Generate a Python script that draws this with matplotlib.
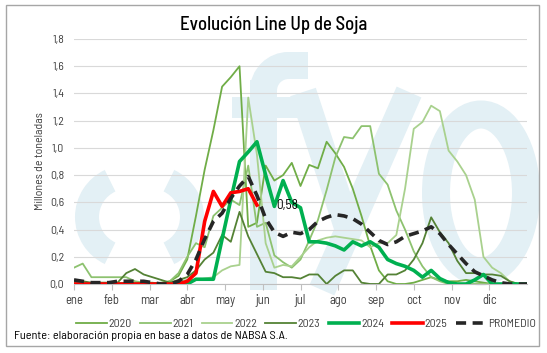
import numpy as np
import matplotlib
import matplotlib.pyplot as plt
from matplotlib.patches import Arc, Ellipse, Rectangle
from matplotlib.lines import Line2D
from matplotlib.transforms import Affine2D

matplotlib.use('Agg')
plt.rcParams['font.family'] = ['Barlow Semi Condensed', 'DejaVu Sans']

# Weekly line-up (millones de toneladas), 53 weeks
y2020 = [0.00, 0.00, 0.00, 0.00, 0.00, 0.00, 0.00, 0.00, 0.00, 0.00, 0.01, 0.02, 0.06, 0.18,
         0.50, 0.84, 1.13, 1.45, 1.52, 1.60, 0.42, 0.45, 0.87, 0.76, 0.80, 0.89, 0.72, 0.875,
         0.85, 1.045, 0.96, 0.86, 0.70, 0.50, 0.28, 0.10, 0.02, 0.00, 0.00, 0.01, 0.03, 0.05,
         0.03, 0.02, 0.02, 0.03, 0.02, 0.01, 0.00, 0.00, 0.00, 0.00, 0.00]
y2021 = [0.12, 0.15, 0.05, 0.05, 0.05, 0.05, 0.05, 0.02, 0.01, 0.01, 0.00, 0.02, 0.08, 0.20,
         0.30, 0.27, 0.50, 0.56, 0.62, 0.58, 0.87, 0.42, 0.45, 0.21, 0.16, 0.12, 0.18, 0.32,
         0.47, 0.69, 0.93, 1.08, 1.07, 1.16, 1.16, 0.81, 0.73, 0.54, 0.40, 0.24, 0.13, 0.05,
         0.02, 0.00, 0.00, 0.00, 0.00, 0.00, 0.00, 0.00, 0.00, 0.00, 0.00]
y2022 = [0.00, 0.00, 0.00, 0.00, 0.00, 0.00, 0.00, 0.00, 0.00, 0.00, 0.00, 0.00, 0.02, 0.03,
         0.03, 0.04, 0.05, 0.10, 0.13, 0.14, 1.37, 0.95, 0.30, 0.12, 0.14, 0.13, 0.20, 0.27,
         0.32, 0.34, 0.35, 0.34, 0.33, 0.32, 0.27, 0.30, 0.30, 0.36, 0.70, 1.14, 1.19, 1.31,
         1.27, 0.98, 0.90, 0.80, 0.62, 0.20, 0.12, 0.08, 0.02, 0.00, 0.00]
y2023 = [0.02, 0.02, 0.01, 0.01, 0.01, 0.01, 0.08, 0.11, 0.07, 0.05, 0.03, 0.01, 0.03, 0.05,
         0.10, 0.18, 0.23, 0.36, 0.31, 0.53, 0.35, 0.22, 0.09, 0.08, 0.05, 0.05, 0.04, 0.07,
         0.07, 0.00, 0.06, 0.10, 0.10, 0.01, 0.00, 0.00, 0.07, 0.07, 0.10, 0.18, 0.30, 0.49,
         0.38, 0.30, 0.17, 0.08, 0.08, 0.07, 0.07, 0.06, 0.02, 0.00, 0.00]
y2024 = [0.00, 0.00, 0.00, 0.00, 0.00, 0.00, 0.00, 0.00, 0.00, 0.00, 0.00, 0.00, 0.00, 0.00,
         0.035, 0.035, 0.035, 0.33, 0.62, 0.90, 0.97, 1.045, 0.80, 0.57, 0.76, 0.60, 0.56, 0.31,
         0.31, 0.30, 0.28, 0.25, 0.31, 0.28, 0.31, 0.27, 0.18, 0.15, 0.13, 0.10, 0.05, 0.10,
         0.04, 0.01, 0.00, 0.00, 0.03, 0.07, 0.00, 0.00, 0.00, 0.00, 0.00]
y2025 = [0.00, 0.00, 0.00, 0.00, 0.00, 0.00, 0.00, 0.00, 0.00, 0.00, 0.00, 0.00, 0.00, 0.02,
         0.08, 0.46, 0.68, 0.57, 0.67, 0.68, 0.70, 0.58]
promedio = [0.03, 0.02, 0.01, 0.01, 0.01, 0.02, 0.02, 0.02, 0.02, 0.01, 0.00, 0.00, 0.02, 0.07,
            0.18, 0.33, 0.46, 0.52, 0.63, 0.72, 0.79, 0.65, 0.48, 0.38, 0.35, 0.38, 0.37, 0.40,
            0.46, 0.49, 0.51, 0.50, 0.48, 0.44, 0.38, 0.32, 0.29, 0.31, 0.35, 0.37, 0.39, 0.42,
            0.37, 0.29, 0.22, 0.15, 0.09, 0.06, 0.03, 0.01, 0.00, 0.00, 0.00]
meses = ['ene', 'feb', 'mar', 'abr', 'may', 'jun', 'jul', 'ago', 'sep', 'oct', 'nov', 'dic']

series = [
    ('2020', y2020, '#70ad47', 1.3),
    ('2021', y2021, '#8dc26f', 1.3),
    ('2022', y2022, '#a9d18e', 1.3),
    ('2023', y2023, '#548235', 1.3),
    ('2024', y2024, '#00b050', 2.6),
    ('2025', y2025, '#ff0000', 2.6),
]

W, H = 547, 353
fig = plt.figure(figsize=(W / 100, H / 100), dpi=100)
ax = fig.add_axes([74 / W, 1 - 284 / H, 453 / W, 245 / H])
ax.set_facecolor('none')
px = Affine2D().scale(1 / W, -1 / H).translate(0, 1) + fig.transFigure

# fyo watermark behind the plot
wm = '#e3f0f5'
pt = 72 / 100
deco = [
    Arc((127, 217), 80, 80, theta1=115, theta2=245, lw=24 * pt, color=wm),
    Arc((152, 217), 80, 80, theta1=-65, theta2=65, lw=24 * pt, color=wm),
    Rectangle((250, 80), 27, 210, color=wm, lw=0),
    Arc((288.5, 90.5), 50, 50, theta1=180, theta2=270, lw=27 * pt, color=wm),
    Rectangle((288, 52), 20, 27, color=wm, lw=0),
    Rectangle((232, 97), 68, 21, color=wm, lw=0),
    Ellipse((481, 193), 90, 157, fill=False, lw=28 * pt, color=wm),
]
for p in deco:
    p.set_transform(px)
    p.set_zorder(-1)
    fig.add_artist(p)
for xs, ys in [([303, 350], [92, 235]), ([409, 322], [92, 290])]:
    ln = Line2D(xs, ys, lw=27 * pt, color=wm, solid_capstyle='butt', transform=px, zorder=-1)
    fig.add_artist(ln)

# outer frame
fig.add_artist(Rectangle((6, 5), 533, 341, fill=False, ec='#a6a6a6', lw=1.0, transform=px, zorder=5))

# series
for name, vals, col, lw in series:
    ax.plot(np.arange(len(vals)), vals, color=col, lw=lw, label=name, zorder=3)
ax.plot(np.arange(len(promedio)), promedio, color='#262626', lw=2.6, ls=(0, (2.8, 1.8)),
        label='PROMEDIO', zorder=4)

# data label of the last 2025 point
last = len(y2025) - 1
ax.annotate(f'{y2025[last]:.2f}'.replace('.', ','), (last, y2025[last]), xytext=(14, 0),
            textcoords='offset points', ha='left', va='center', fontsize=9.5, color='black')

ax.set_xlim(0, 52)
ax.set_ylim(0, 1.8)
ax.set_yticks(np.arange(0, 1.81, 0.2))
ax.set_yticklabels([f'{v:.1f}'.replace('.', ',') for v in np.arange(0, 1.81, 0.2)], fontsize=8.5)
ax.set_xticks([m * 52 / 12 for m in range(12)])
ax.set_xticklabels(meses, fontsize=9)
ax.tick_params(axis='y', length=0, pad=7, colors='#404040')
ax.tick_params(axis='x', length=4, width=0.8, color='#bfbfbf', pad=3, labelcolor='#404040')
ax.grid(axis='y', color='#d9d9d9', lw=0.8)
ax.set_axisbelow(True)
for s in ['top', 'right', 'left']:
    ax.spines[s].set_visible(False)
ax.spines['bottom'].set_color('#bfbfbf')

fig.text(0.5, 1 - 25 / H, 'Evolución Line Up de Soja', ha='center', va='center', fontsize=13.5,
         fontweight='medium')
fig.text(40 / W, 1 - 161 / H, 'Millones de toneladas', rotation=90, ha='center', va='center',
         fontsize=8.5, color='#404040')
fig.text(14 / W, 1 - 336 / H, 'Fuente: elaboración propia en base a datos de NABSA S.A.',
         ha='left', va='center', fontsize=8.8)

fig.legend(loc='center', bbox_to_anchor=(306 / W, 1 - 324 / H), ncol=7, frameon=False,
           fontsize=8.5, handlelength=2.6, handletextpad=0.15, columnspacing=0.7,
           borderpad=0.2, labelcolor='#404040')

plt.savefig('out.png', dpi=100)
plt.close()
